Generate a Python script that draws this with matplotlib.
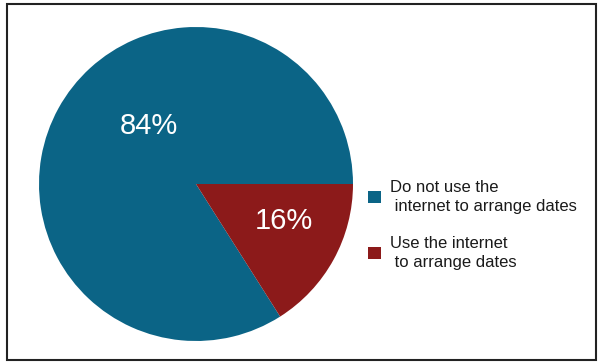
import matplotlib.pyplot as plt
from matplotlib.patches import Rectangle

# 数据
labels = ['Do not use the\n internet to arrange dates', 'Use the internet\n to arrange dates']
shares = [84, 16]
pct_text = ['84%', '16%']
colors = ['#0b6486', '#8c1a1a']

plt.rcParams['font.family'] = ['Liberation Sans', 'DejaVu Sans']

W, H = 598, 364
fig = plt.figure(figsize=(W / 100, H / 100), dpi=100)

# 外框
fig.patches.append(Rectangle((7 / W, 4 / H), 589 / W, 356 / H, transform=fig.transFigure,
                             fill=False, edgecolor='#222222', linewidth=1.5))

# 饼图坐标轴（圆心约在 196,184 像素，半径 157）
cx, cy, r = 196, 184, 157
ax = fig.add_axes([(cx - r) / W, (H - cy - r) / H, 2 * r / W, 2 * r / H])
wedges, _ = ax.pie(shares, colors=colors, startangle=0, counterclock=True,
                   wedgeprops=dict(edgecolor='none'))
ax.set_xlim(-1, 1)
ax.set_ylim(-1, 1)

# 百分比标签
label_pos = [(-0.30, 0.37), (0.56, -0.235)]
for (x, y), t in zip(label_pos, pct_text):
    ax.text(x, y, t, color='white', fontsize=21, ha='center', va='center')

# 图例
leg = fig.legend(wedges, labels, loc='center left', bbox_to_anchor=(353 / W, (H - 225) / H),
                 frameon=False, fontsize=12, handlelength=0.75, handleheight=0.7,
                 handletextpad=0.55, labelspacing=1.3)
for t in leg.get_texts():
    t.set_linespacing(1.35)
    t.set_color('#1a1a1a')

fig.savefig('out.png', dpi=100)
